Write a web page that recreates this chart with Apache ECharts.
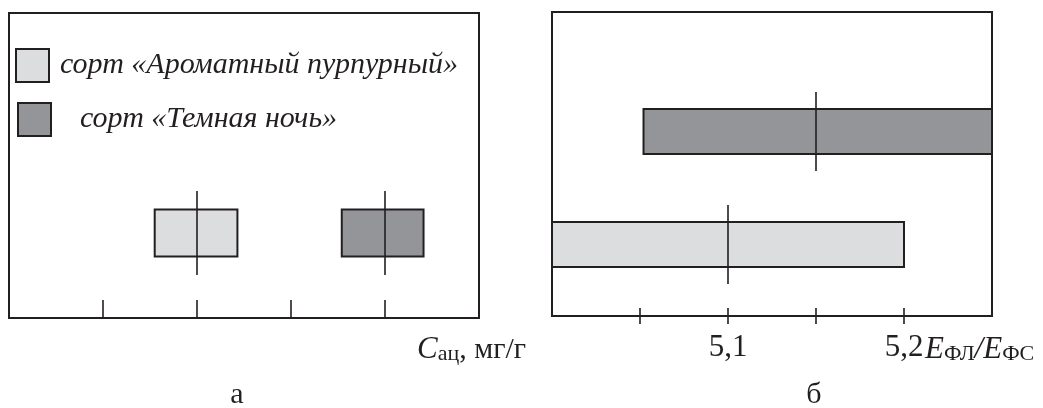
<!DOCTYPE html>
<html>
<head>
<meta charset="utf-8">
<script src="https://cdn.jsdelivr.net/npm/echarts@6/dist/echarts.min.js"></script>
<style>
html,body{margin:0;padding:0;background:#fff;}
#chart{width:1043px;height:408px;}
</style>
</head>
<body>
<div id="chart"></div>
<script>
// ---- data ----
const varieties = ['сорт «Ароматный пурпурный»', 'сорт «Темная ночь»'];
const accMean = [2, 4];
const accLow = [1.55, 3.54];
const accHigh = [2.43, 4.41];
const accTicks = [1, 2, 3, 4];
const ratioMean = [5.1, 5.15];
const ratioLow = [5.0, 5.052];
const ratioHigh = [5.2, 5.25];
const ratioTicks = [5.05, 5.1, 5.15, 5.2];
const ratioLabels = [5.1, 5.2];
const panelLabels = ['а', 'б'];

// ---- style ----
const INK = '#231f20';
const FILLS = ['#dcdddf', '#939598'];
const SERIF = '"Liberation Serif", "DejaVu Serif", serif';

function boxRenderer(level, boxH, lineH) {
  return function (params, api) {
    const lo = api.coord([api.value(0), level]);
    const hi = api.coord([api.value(1), level]);
    const m = api.coord([api.value(2), level]);
    return {
      type: 'group',
      children: [
        { type: 'rect',
          shape: { x: lo[0], y: lo[1] - boxH / 2, width: hi[0] - lo[0], height: boxH },
          style: { fill: api.visual('color'), stroke: INK, lineWidth: 2 } },
        { type: 'line',
          shape: { x1: m[0], y1: m[1] - lineH / 2, x2: m[0], y2: m[1] + lineH / 2 },
          style: { stroke: INK, lineWidth: 1.6 } }
      ]
    };
  };
}

const chart = echarts.init(document.getElementById('chart'), null, { renderer: 'canvas' });

const legendText = { fontFamily: SERIF, fontStyle: 'italic', fontSize: 30, color: INK };

const option = {
  backgroundColor: '#fff',
  animation: false,
  color: FILLS,
  legend: [
    { data: [varieties[0]], left: 15, top: 48, padding: 0, orient: 'vertical', icon: 'rect',
      itemWidth: 33, itemHeight: 33, selectedMode: false,
      itemStyle: { borderColor: INK, borderWidth: 2 },
      textStyle: Object.assign({ padding: [0, 0, 0, 6] }, legendText) },
    { data: [varieties[1]], left: 17, top: 102, padding: 0, orient: 'vertical', icon: 'rect',
      itemWidth: 33, itemHeight: 33, selectedMode: false,
      itemStyle: { borderColor: INK, borderWidth: 2 },
      textStyle: Object.assign({ padding: [0, 0, 0, 24] }, legendText) }
  ],
  grid: [
    { left: 9, top: 13, width: 470, height: 305, show: true, borderColor: INK, borderWidth: 2, backgroundColor: 'transparent' },
    { left: 552, top: 12, width: 440, height: 304, show: true, borderColor: INK, borderWidth: 2, backgroundColor: 'transparent' }
  ],
  xAxis: [
    { type: 'value', gridIndex: 0, min: 0, max: 5, interval: 1, position: 'bottom',
      axisLine: { show: false },
      axisTick: { show: true, inside: true, length: 18, customValues: accTicks, lineStyle: { color: INK, width: 1.6 } },
      axisLabel: { show: false },
      splitLine: { show: false },
      name: '{i|C}{s|ац}{n|, мг/г}',
      nameLocation: 'end', nameGap: -62, nameMoveOverlap: false,
      nameTextStyle: {
        align: 'left', verticalAlign: 'top', padding: [13, 0, 0, 0],
        rich: {
          i: { fontFamily: SERIF, fontStyle: 'italic', fontSize: 31, color: INK, lineHeight: 34, verticalAlign: 'bottom' },
          s: { fontFamily: SERIF, fontSize: 22, color: INK, lineHeight: 34, verticalAlign: 'bottom' },
          n: { fontFamily: SERIF, fontSize: 30, color: INK, lineHeight: 34, verticalAlign: 'bottom' }
        }
      }
    },
    { type: 'value', gridIndex: 1, min: 5.0, max: 5.25, interval: 0.05, position: 'bottom', offset: -8,
      axisLine: { show: false },
      axisTick: { show: true, inside: false, length: 16, customValues: ratioTicks, lineStyle: { color: INK, width: 1.6 } },
      axisLabel: { show: true, customValues: ratioLabels, margin: 24,
        fontFamily: SERIF, fontSize: 31, color: INK,
        formatter: v => v.toFixed(1).replace('.', ',') },
      splitLine: { show: false },
      name: '{i|E}{s|ФЛ}{i|/E}{s|ФС}',
      nameLocation: 'end', nameGap: -67, nameMoveOverlap: false,
      nameTextStyle: {
        align: 'left', verticalAlign: 'top', padding: [23, 0, 0, 0],
        rich: {
          i: { fontFamily: SERIF, fontStyle: 'italic', fontSize: 31, color: INK, lineHeight: 34, verticalAlign: 'bottom' },
          s: { fontFamily: SERIF, fontSize: 22, color: INK, lineHeight: 34, verticalAlign: 'bottom' }
        }
      }
    }
  ],
  yAxis: [
    { type: 'value', gridIndex: 0, min: 0, max: 1, show: false },
    { type: 'value', gridIndex: 1, min: 0, max: 1, show: false }
  ],
  series: [
    { type: 'custom', name: varieties[0], xAxisIndex: 0, yAxisIndex: 0,
      renderItem: boxRenderer(0.279, 47, 84), encode: { x: [0, 1, 2] },
      itemStyle: { color: FILLS[0], borderColor: INK, borderWidth: 2 },
      data: [[accLow[0], accHigh[0], accMean[0]]] },
    { type: 'custom', name: varieties[1], xAxisIndex: 0, yAxisIndex: 0,
      renderItem: boxRenderer(0.279, 47, 84), encode: { x: [0, 1, 2] },
      itemStyle: { color: FILLS[1], borderColor: INK, borderWidth: 2 },
      data: [[accLow[1], accHigh[1], accMean[1]]] },
    { type: 'custom', name: varieties[0], xAxisIndex: 1, yAxisIndex: 1,
      renderItem: boxRenderer(0.235, 45, 79), encode: { x: [0, 1, 2] },
      itemStyle: { color: FILLS[0], borderColor: INK, borderWidth: 2 },
      data: [[ratioLow[0], ratioHigh[0], ratioMean[0]]] },
    { type: 'custom', name: varieties[1], xAxisIndex: 1, yAxisIndex: 1,
      renderItem: boxRenderer(0.607, 45, 79), encode: { x: [0, 1, 2] },
      itemStyle: { color: FILLS[1], borderColor: INK, borderWidth: 2 },
      data: [[ratioLow[1], ratioHigh[1], ratioMean[1]]] }
  ],
  graphic: [
    { type: 'text', x: 237, y: 395, style: { text: panelLabels[0], align: 'center', verticalAlign: 'middle', font: '30px ' + SERIF, fill: INK } },
    { type: 'text', x: 814, y: 395, style: { text: panelLabels[1], align: 'center', verticalAlign: 'middle', font: '30px ' + SERIF, fill: INK } }
  ]
};
chart.setOption(option);
</script>
</body>
</html>
